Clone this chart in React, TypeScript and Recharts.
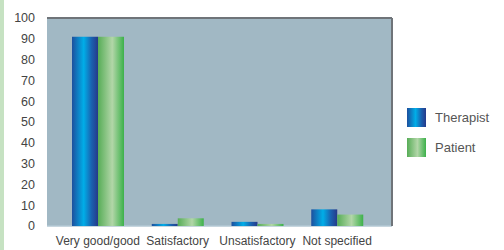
import { BarChart, Bar, XAxis, YAxis, CartesianGrid, ReferenceLine } from "recharts";

const categories = ["Very good/good", "Satisfactory", "Unsatisfactory", "Not specified"];
const therapist = [91, 1, 2, 8];
const patient = [91, 3.7, 1, 5.5];
const yTicks = [0, 10, 20, 30, 40, 50, 60, 70, 80, 90, 100];

const data = categories.map((name, i) => ({ name, therapist: therapist[i], patient: patient[i] }));

const FONT = "'Liberation Sans', Arial, sans-serif";

const legendItems = [
  { label: "Therapist", bg: "linear-gradient(to right, #1d4f9e 0%, #00aee8 45%, #1a62b0 75%, #26398a 100%)" },
  { label: "Patient", bg: "linear-gradient(to right, #57ad57 0%, #b2d6a8 55%, #3cb14a 100%)" },
];

function LegendBox() {
  return (
    <div style={{ position: "absolute", left: 407, top: 102, fontFamily: FONT, fontSize: 13, color: "#555" }}>
      {legendItems.map((it) => (
        <div key={it.label} style={{ display: "flex", alignItems: "center", height: 30 }}>
          <div style={{ width: 19, height: 19, marginRight: 9, background: it.bg }} />
          <span>{it.label}</span>
        </div>
      ))}
    </div>
  );
}

export default function App() {
  return (
    <div style={{ position: "absolute", left: 0, top: 0, width: 504, height: 250, background: "#fff" }}>
      <div style={{ position: "absolute", left: 0, top: 0, width: 4, height: 250, background: "#c6e2c2" }} />
      <BarChart
        width={504}
        height={250}
        data={data}
        margin={{ top: 18, right: 110, bottom: 0, left: 0 }}
        barGap={0}
        barCategoryGap={14}
      >
        <defs>
          <linearGradient id="gradTherapist" x1="0" y1="0" x2="1" y2="0">
            <stop offset="0%" stopColor="#1d4f9e" />
            <stop offset="45%" stopColor="#00aee8" />
            <stop offset="75%" stopColor="#1a62b0" />
            <stop offset="100%" stopColor="#26398a" />
          </linearGradient>
          <linearGradient id="gradPatient" x1="0" y1="0" x2="1" y2="0">
            <stop offset="0%" stopColor="#57ad57" />
            <stop offset="55%" stopColor="#b2d6a8" />
            <stop offset="100%" stopColor="#3cb14a" />
          </linearGradient>
        </defs>
        <CartesianGrid vertical={false} fill="#a1b8c4" stroke="#b3c9d4" strokeWidth={1.5} />
        <XAxis
          dataKey="name"
          tickLine={false}
          axisLine={false}
          height={24}
          padding={{ left: 11, right: 15 }}
          tick={{ fontFamily: FONT, fontSize: 12, fill: "#444" }}
          tickMargin={4}
          interval={0}
        />
        <YAxis
          yAxisId="left"
          domain={[0, 100]}
          ticks={yTicks}
          width={47}
          tickLine={false}
          axisLine={false}
          tickMargin={6}
          tick={{ fontFamily: FONT, fontSize: 12.5, fill: "#444" }}
        />
        <YAxis
          yAxisId="right"
          orientation="right"
          domain={[0, 100]}
          width={2}
          tick={false}
          tickLine={false}
          axisLine={{ stroke: "#6f7479", strokeWidth: 2 }}
        />
        <ReferenceLine yAxisId="left" y={100} stroke="#6f7479" strokeWidth={2} />
        <Bar yAxisId="left" dataKey="therapist" name="Therapist" fill="url(#gradTherapist)" isAnimationActive={false} />
        <Bar yAxisId="left" dataKey="patient" name="Patient" fill="url(#gradPatient)" isAnimationActive={false} />
      </BarChart>
      <LegendBox />
    </div>
  );
}
